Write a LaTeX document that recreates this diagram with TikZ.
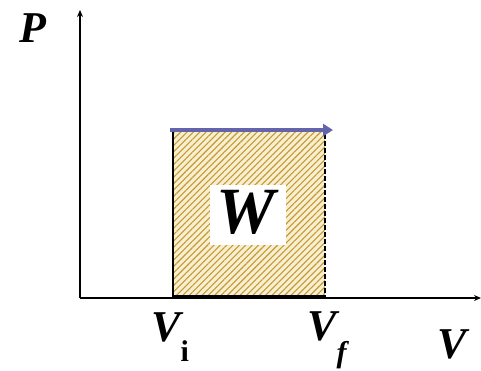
\documentclass[tikz,border=0pt]{standalone}
\usepackage{fontspec}
\setmainfont{Liberation Serif}
\usetikzlibrary{patterns.meta,arrows.meta}
\definecolor{hatch}{HTML}{C49A30}
\definecolor{hatchbg}{HTML}{F8EFD2}
\definecolor{arrowblue}{HTML}{6464AA}
\tikzset{
  lbl/.style={inner sep=0pt, font=\bfseries\itshape\fontsize{44}{44}\selectfont},
  axis/.style={line width=1.6pt, -{Stealth[length=7pt,width=6pt]}},
}
\begin{document}
\begin{tikzpicture}[x=1pt,y=-1pt]
\useasboundingbox (0,0) rectangle (481,370);
\coordinate (O) at (80,298);
\coordinate (Ytop) at (80,10);
\coordinate (Xend) at (481,298);
\coordinate (A) at (173,130);
\coordinate (B) at (325,297);
% shaded area
\fill[hatchbg] (A) rectangle (B);
\fill[pattern={Lines[angle=45,distance=4.5pt,line width=1.1pt]}, pattern color=hatch] (A) rectangle (B);
\node[fill=white, minimum width=76pt, minimum height=60pt, inner sep=0pt] (wbox) at (248,215) {};
\node[lbl, font=\bfseries\itshape\fontsize{66}{66}\selectfont] (W) at (246,212) {W};
% edges
\draw[line width=1.8pt] (173,131) -- (173,297);
\draw[line width=1.8pt, dashed, dash pattern=on 5pt off 2pt] (325,134) -- (325,297);
\draw[line width=4pt] (173,297) -- (325,297);
% axes
\draw[axis] (O) -- (Ytop);
\draw[axis] (O) -- (Xend);
% process arrow
\coordinate (p1) at (170,130);
\coordinate (p2) at (333,130);
\draw[arrowblue, line width=4.5pt, -{Triangle[length=10pt,width=12pt]}] (p1) -- (p2);
% labels
\node[lbl] (P) at (33,28) {P};
\node[lbl] (Vi) at (170,337) {V\raisebox{-0.45em}{\fontsize{30}{30}\selectfont\upshape i}};
\node[lbl] (Vf) at (327,340) {V\raisebox{-0.5em}{\fontsize{30}{30}\selectfont f}};
\node[lbl] (V) at (452,344) {V};
\end{tikzpicture}
\end{document}
